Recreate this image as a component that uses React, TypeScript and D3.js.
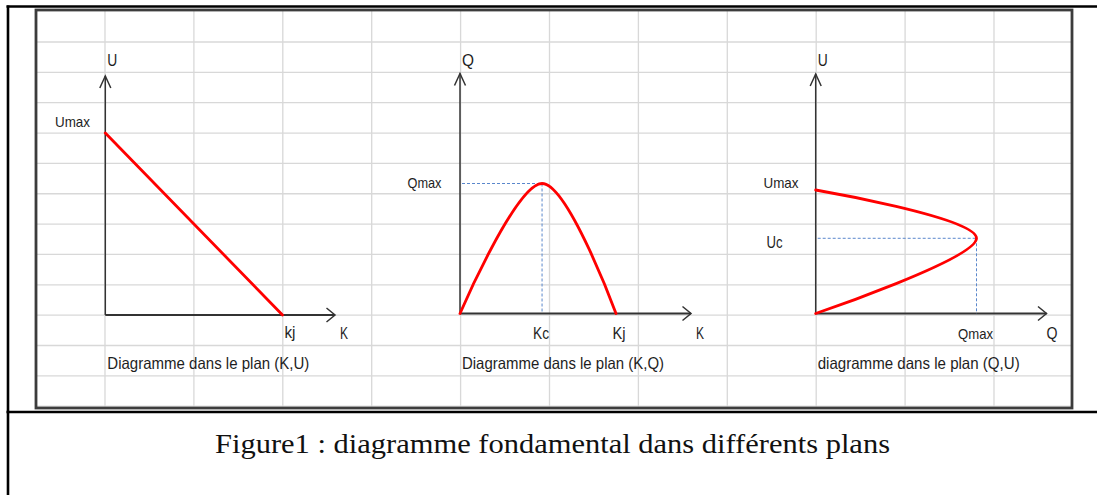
import React from 'react';
import * as d3 from 'd3';

// ---------- data (normalised units: Kj = 1, Umax = 1, Qmax = 1) ----------
const panel1K = [0, 1];
const panel1U = [1, 0];

// freeform curve through start, peak and end points
const panel2K = [0, 0.526, 1];
const panel2Q = [0, 1, 0];
const panel2Kc = 0.526;

const panel3U = [0, 0.609, 1];
const panel3Q = [0, 1, 0];
const panel3Uc = 0.609;

const panelCaptions = [
  'Diagramme dans le plan (K,U)',
  'Diagramme dans le plan (K,Q)',
  'diagramme dans le plan (Q,U)',
];
const yAxisNames = ['U', 'Q', 'U'];
const xAxisNames = ['K', 'K', 'Q'];
const figureCaption = 'Figure1 : diagramme fondamental dans différents plans';

// ---------- layout ----------
const W = 1097;
const H = 495;
const frame = { x0: 36, y0: 10, x1: 1072, y1: 408 };
const colScale = d3.scaleLinear().domain([0, 1]).range([105, 193.9]);
const rowScale = d3.scaleLinear().domain([0, 1]).range([42, 72.35]);
const gridCols = d3.range(0, 11);
const gridRows = d3.range(0, 12);

const panels = [
  { ox: 105.3, oy: 315, ux: 177.2, uy: 182, tipX: 335, tipY: 76 },
  { ox: 460, oy: 313.5, ux: 156, uy: 130, tipX: 691, tipY: 73.5 },
  { ox: 815.7, oy: 313.5, ux: 160.8, uy: 123.5, tipX: 1046.5, tipY: 74 },
];
const scales = panels.map((p) => ({
  x: d3.scaleLinear().domain([0, 1]).range([p.ox, p.ox + p.ux]),
  y: d3.scaleLinear().domain([0, 1]).range([p.oy, p.oy - p.uy]),
}));

const SANS = '"Liberation Sans", Arial, sans-serif';
const SERIF = '"Liberation Serif", "Times New Roman", serif';
const TXT = '#1e1e1e';
const RED = '#ff0000';
const DASH = '#5a87cc';
const AXIS = '#333333';

function arrowUp(x: number, y: number) {
  return `M${x - 5.5},${y + 12}L${x},${y}L${x + 5.5},${y + 12}`;
}
function arrowRight(x: number, y: number) {
  return `M${x - 8.5},${y - 7}L${x},${y}L${x - 8.5},${y + 7}`;
}

export default function App() {
  const s1 = scales[0];
  const s2 = scales[1];
  const s3 = scales[2];

  const line1 = d3
    .line<number>()
    .x((_, i) => s1.x(panel1K[i]))
    .y((d) => s1.y(d))(panel1U);

  const line2 = d3
    .line<number>()
    .x((_, i) => s2.x(panel2K[i]))
    .y((d) => s2.y(d))
    .curve(d3.curveCardinal.tension(0))(panel2Q);

  const line3 = d3
    .line<number>()
    .x((_, i) => s3.x(panel3Q[i]))
    .y((d) => s3.y(d))
    .curve(d3.curveCardinal.tension(0))(panel3U);

  const label = (x: number, y: number, t: string, size = 16, len?: number) => (
    <text
      x={x}
      y={y}
      fontFamily={SANS}
      fontSize={size}
      fill={TXT}
      {...(len ? { textLength: len, lengthAdjust: 'spacingAndGlyphs' } : {})}
    >
      {t}
    </text>
  );

  return (
    <div style={{ position: 'absolute', left: 0, top: 0 }}>
      <svg width={W} height={H} style={{ display: 'block', background: '#fff' }}>
        {/* spreadsheet grid */}
        {gridCols.map((c) => (
          <line
            key={'c' + c}
            x1={colScale(c)}
            x2={colScale(c)}
            y1={frame.y0}
            y2={frame.y1}
            stroke="#d8d8d8"
            strokeWidth={1.3}
          />
        ))}
        {gridRows.map((r) => (
          <line
            key={'r' + r}
            x1={frame.x0}
            x2={frame.x1}
            y1={rowScale(r)}
            y2={rowScale(r)}
            stroke="#d8d8d8"
            strokeWidth={1.3}
          />
        ))}
        <line x1={frame.x0} x2={frame.x1} y1={rowScale(12)} y2={rowScale(12)} stroke="#e0e0e0" strokeWidth={1.3} />

        {/* picture frame */}
        <rect
          x={frame.x0}
          y={frame.y0}
          width={frame.x1 - frame.x0}
          height={frame.y1 - frame.y0}
          fill="none"
          stroke="#3c3c3c"
          strokeWidth={2.8}
        />

        {/* table borders */}
        <line x1={6.5} x2={W} y1={6.5} y2={6.5} stroke="#000" strokeWidth={2.6} />
        <line x1={8} x2={8} y1={5.5} y2={H} stroke="#000" strokeWidth={2.6} />
        <line x1={6.5} x2={W} y1={412} y2={412} stroke="#000" strokeWidth={2.6} />

        {/* axes */}
        {panels.map((p, i) => (
          <g key={'ax' + i} stroke={AXIS} fill="none" strokeWidth={1.5}>
            <line x1={p.ox} x2={p.ox} y1={p.oy} y2={p.tipY} />
            <line x1={p.ox} x2={p.tipX} y1={p.oy} y2={p.oy} strokeWidth={1.8} />
            <path d={arrowUp(p.ox, p.tipY)} />
            <path d={arrowRight(p.tipX, p.oy)} />
          </g>
        ))}

        {/* dashed guides */}
        <g stroke={DASH} strokeWidth={1} strokeDasharray="3,2" fill="none">
          <line x1={s2.x(0) + 2} x2={s2.x(panel2Kc)} y1={s2.y(1)} y2={s2.y(1)} />
          <line x1={s2.x(panel2Kc)} x2={s2.x(panel2Kc)} y1={s2.y(1)} y2={s2.y(0)} />
          <line x1={s3.x(0) + 2} x2={s3.x(1)} y1={s3.y(panel3Uc)} y2={s3.y(panel3Uc)} />
          <line x1={s3.x(1)} x2={s3.x(1)} y1={s3.y(panel3Uc)} y2={s3.y(0)} />
        </g>

        {/* curves */}
        <g stroke={RED} strokeWidth={2.8} fill="none" strokeLinecap="round">
          <path d={line1 || ''} />
          <path d={line2 || ''} />
          <path d={line3 || ''} />
        </g>

        {/* axis names */}
        {panels.map((p, i) => (
          <g key={'an' + i}>
            {label(p.ox + 2, 66, yAxisNames[i], 16, i === 1 ? 12 : 10)}
            {label(p.tipX + (i === 2 ? 0 : 5), 339, xAxisNames[i], 16, i === 2 ? 11 : 8)}
            {label(p.ox + 2, 369, panelCaptions[i], 16.5, 202)}
          </g>
        ))}

        {/* value labels */}
        {label(55, 126.5, 'Umax', 15, 35)}
        {label(284.5, 338, 'kj', 16, 11)}
        {label(407.5, 187.5, 'Qmax', 15, 34)}
        {label(533, 339, 'Kc', 16, 16)}
        {label(612.5, 339, 'Kj', 16, 13)}
        {label(763.5, 188, 'Umax', 15, 35)}
        {label(766.5, 248, 'Uc', 16, 16)}
        {label(958, 339, 'Qmax', 15, 35)}

        {/* figure caption */}
        <text
          x={552.5}
          y={453}
          textAnchor="middle"
          fontFamily={SERIF}
          fontSize={28}
          fill="#111"
          textLength={675}
          lengthAdjust="spacingAndGlyphs"
        >
          {figureCaption}
        </text>
      </svg>
    </div>
  );
}
